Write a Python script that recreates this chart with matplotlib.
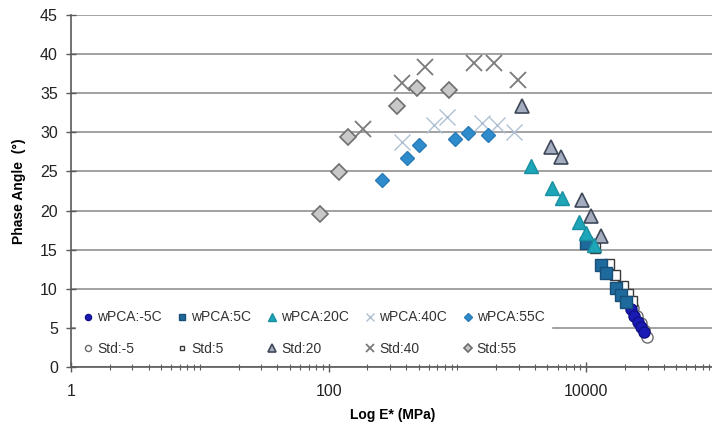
import matplotlib
matplotlib.use("Agg")
import matplotlib.pyplot as plt
from matplotlib.ticker import LogLocator, NullFormatter
import numpy as np

# E* (MPa) and phase angle (deg) for each test temperature
wpca_m5_E = [20530, 22080, 23710, 25470, 26870, 28330]
wpca_m5_ang = [8.3, 7.4, 6.5, 5.8, 5.1, 4.5]
wpca_5_E = [10040, 13130, 14350, 17170, 18780, 20530]
wpca_5_ang = [15.9, 13.0, 12.0, 10.1, 9.2, 8.3]
wpca_20_E = [3750, 5460, 6530, 8850, 10040, 11580]
wpca_20_ang = [25.7, 22.9, 21.6, 18.5, 17.1, 15.6]
wpca_40_E = [373, 662, 836, 1560, 2040, 2770]
wpca_40_ang = [28.8, 30.9, 32.0, 31.2, 30.9, 30.1]
wpca_55_E = [261, 408, 506, 964, 1217, 1738]
wpca_55_ang = [23.9, 26.7, 28.4, 29.2, 29.9, 29.7]

std_m5_E = [21670, 23270, 24990, 26870, 28330, 29900]
std_m5_ang = [8.6, 7.5, 6.5, 5.6, 4.7, 3.8]
std_5_E = [11780, 15140, 16870, 19140, 21270, 22830]
std_5_ang = [15.2, 13.2, 11.8, 10.4, 9.3, 8.4]
std_20_E = [3190, 5370, 6410, 9340, 10960, 13130]
std_20_ang = [33.4, 28.1, 26.9, 21.4, 19.3, 16.8]
std_40_E = [186, 373, 564, 1350, 1940, 2970]
std_40_ang = [30.4, 36.3, 38.4, 38.9, 38.9, 36.7]
std_55_E = [86, 121, 142, 341, 488, 865]
std_55_ang = [19.6, 24.9, 29.4, 33.4, 35.7, 35.4]

x_ticks = [1, 100, 10000]
x_ticklabels = ["1", "100", "10000"]
y_ticks = [0, 5, 10, 15, 20, 25, 30, 35, 40, 45]

plt.rcParams['font.family'] = ['Liberation Sans', 'DejaVu Sans']

fig = plt.figure(figsize=(7.12, 4.30), dpi=100)
ax = fig.add_axes([71/712, 1 - 367/430, (715 - 71)/712, (367 - 15)/430])

# standard mix series first, wPCA on top of them
s1, = ax.plot(std_m5_E, std_m5_ang, 'o', ms=8, mfc='white', mec='#6c6c6c', mew=1.0, label='Std:-5')
s2, = ax.plot(std_5_E, std_5_ang, 's', ms=6.5, mfc='white', mec='#3a3a3a', mew=1.0, label='Std:5')
s3, = ax.plot(std_20_E, std_20_ang, '^', ms=10.5, mfc='#a3adbf', mec='#3f4858', mew=1.2, label='Std:20')
s4, = ax.plot(std_40_E, std_40_ang, 'x', ms=11, mew=1.3, color='#7a7a7a', label='Std:40')
s5, = ax.plot(std_55_E, std_55_ang, 'D', ms=8, mfc='#c8c8c8', mec='#6e6e6e', mew=1.2, label='Std:55')

h1, = ax.plot(wpca_m5_E, wpca_m5_ang, 'o', ms=8, mfc='#1a1ab4', mec='#10108a', label='wPCA:-5C')
h2, = ax.plot(wpca_5_E, wpca_5_ang, 's', ms=8, mfc='#1f6a9c', mec='#174f78', label='wPCA:5C')
h3, = ax.plot(wpca_20_E, wpca_20_ang, '^', ms=10, mfc='#1ea5b8', mec='#1890a0', label='wPCA:20C')
h4, = ax.plot(wpca_40_E, wpca_40_ang, 'x', ms=11, mew=1.0, color='#b0c0d3', label='wPCA:40C')
h5, = ax.plot(wpca_55_E, wpca_55_ang, 'D', ms=7.5, mfc='#2e8bcc', mec='#2a7cb8', label='wPCA:55C')

ax.set_xscale('log')
ax.set_xlim(1, 100000)
ax.set_ylim(0, 45)
ax.set_yticks(y_ticks)
ax.xaxis.set_minor_locator(LogLocator(base=10, subs=np.arange(1, 10), numticks=20))
ax.xaxis.set_minor_formatter(NullFormatter())
ax.set_xticks(x_ticks)
ax.set_xticklabels(x_ticklabels)

ax.grid(axis='y', color='#9a9a9a', lw=1.3)
ax.set_axisbelow(True)
for s in ['top', 'right']:
    ax.spines[s].set_visible(False)
for s in ['left', 'bottom']:
    ax.spines[s].set_color('#5a5a5a')
    ax.spines[s].set_linewidth(1.2)

ax.tick_params(axis='both', which='major', direction='inout', length=7, width=1, color='#5a5a5a',
               labelsize=11.5, labelcolor='#222222')
ax.tick_params(axis='y', pad=6)
ax.tick_params(axis='x', pad=9)
ax.tick_params(axis='x', which='minor', direction='inout', length=4, width=0.8, color='#5a5a5a')

ax.set_xlabel('Log E* (MPa)', fontsize=10, fontweight='bold', labelpad=6)
ax.set_ylabel('Phase Angle  (°)', fontsize=10, fontweight='bold', labelpad=10)

handles = [h1, s1, h2, s2, h3, s3, h4, s4, h5, s5]
leg = ax.legend(handles=handles, ncol=5, loc='lower left', bbox_to_anchor=(0.008, 0.012),
                fontsize=10, frameon=True, framealpha=1, edgecolor='white', fancybox=False,
                markerscale=0.55, handlelength=0.7, handletextpad=0.3, columnspacing=1.15,
                labelspacing=1.25, borderpad=0.5, borderaxespad=0)
for t in leg.get_texts():
    t.set_color('#333333')

fig.savefig('out.png', dpi=100)
